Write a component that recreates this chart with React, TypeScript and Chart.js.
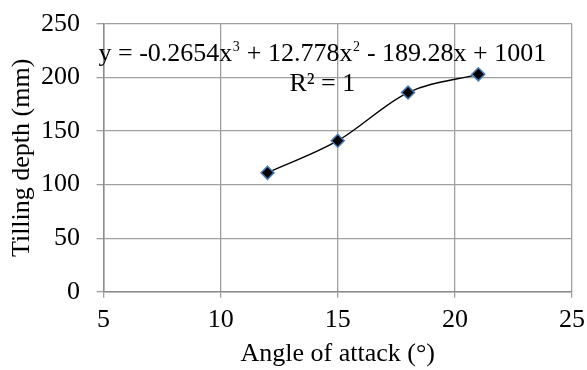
import React, { useEffect, useRef } from "react";
import { Chart, registerables } from "chart.js";

Chart.register(...registerables);

const angles = [12, 15, 18, 21];
const depths = [111, 141, 186, 203];
const xTicks = [5, 10, 15, 20, 25];
const yTicks = [0, 50, 100, 150, 200, 250];
const xTitle = "Angle of attack (°)";
const yTitle = "Tilling depth (mm)";
const eqSegments: [string, boolean][] = [
  ["y = -0.2654x", false],
  ["3", true],
  [" + 12.778x", false],
  ["2", true],
  [" - 189.28x + 1001", false],
];
const r2Label = "R² = 1";

const FONT = "'Liberation Serif', 'Times New Roman', serif";
const FS = 26;

const equationPlugin = {
  id: "equationLabel",
  afterDatasetsDraw(chart: any) {
    const ctx = chart.ctx;
    const area = chart.chartArea;
    const cx = area.left + (area.right - area.left) * 0.4672;
    const supSize = 14;
    ctx.save();
    ctx.fillStyle = "#000";
    ctx.textBaseline = "alphabetic";
    ctx.textAlign = "left";
    let total = 0;
    const widths: number[] = [];
    for (const [t, sup] of eqSegments) {
      ctx.font = `${sup ? supSize : FS}px ${FONT}`;
      const w = ctx.measureText(t).width + (sup ? 1 : 0);
      widths.push(w);
      total += w;
    }
    let x = cx - total / 2;
    const base = area.top + 37;
    eqSegments.forEach(([t, sup], i) => {
      ctx.font = `${sup ? supSize : FS}px ${FONT}`;
      ctx.fillText(t, x + (sup ? 0.5 : 0), sup ? base - 10 : base);
      x += widths[i];
    });
    ctx.font = `${FS}px ${FONT}`;
    ctx.textAlign = "center";
    ctx.fillText(r2Label, cx, area.top + 66.5);
    ctx.restore();
  },
};

const zeroPad = (s: any) => {
  s.paddingLeft = 0;
  s.paddingRight = 0;
  s.paddingTop = 0;
  s.paddingBottom = 0;
};

export default function App() {
  const ref = useRef<HTMLCanvasElement | null>(null);
  useEffect(() => {
    if (!ref.current) return;
    const chart = new Chart(ref.current, {
      type: "scatter",
      data: {
        datasets: [
          {
            data: angles.map((a, i) => ({ x: a, y: depths[i] })),
            showLine: true,
            cubicInterpolationMode: "monotone",
            borderColor: "#000",
            borderWidth: 1.4,
            pointStyle: "rectRot",
            pointRadius: 6.5,
            pointBackgroundColor: "#000",
            pointBorderColor: "#4a7ebb",
            pointBorderWidth: 1.5,
          },
        ],
      },
      options: {
        animation: false,
        responsive: false,
        devicePixelRatio: 1,
        layout: { padding: { top: 24, right: 15, left: 0, bottom: 0 } },
        plugins: { legend: { display: false }, tooltip: { enabled: false } },
        scales: {
          x: {
            type: "linear",
            min: 5,
            max: 25,
            afterBuildTicks: (s: any) => {
              s.ticks = xTicks.map((v) => ({ value: v }));
            },
            afterFit: (s: any) => {
              s.height = 78.3;
              zeroPad(s);
            },
            grid: { color: "#a0a0a0", lineWidth: 1.3, tickLength: 6 },
            border: { color: "#8c8c8c", width: 1.5 },
            ticks: {
              color: "#000",
              font: { family: FONT, size: FS },
              padding: 7,
            },
            title: {
              display: true,
              text: xTitle,
              color: "#000",
              font: { family: FONT, size: FS },
              padding: { top: 0, bottom: 0 },
            },
          },
          y: {
            type: "linear",
            min: 0,
            max: 250,
            afterBuildTicks: (s: any) => {
              s.ticks = yTicks.map((v) => ({ value: v }));
            },
            afterFit: (s: any) => {
              s.width = 103.5;
              zeroPad(s);
            },
            grid: { color: "#a0a0a0", lineWidth: 1.3, tickLength: 7 },
            border: { color: "#8c8c8c", width: 1.5 },
            ticks: {
              color: "#000",
              font: { family: FONT, size: FS },
              padding: 16.5,
            },
            title: {
              display: true,
              text: yTitle,
              color: "#000",
              font: { family: FONT, size: FS },
              padding: { top: 7, bottom: 0 },
            },
          },
        },
      },
      plugins: [equationPlugin],
    } as any);
    return () => chart.destroy();
  }, []);
  return (
    <div style={{ position: "fixed", left: 0, top: 0, width: 587, height: 370, background: "#fff" }}>
      <canvas ref={ref} width={587} height={370} style={{ width: 587, height: 370 }} />
    </div>
  );
}
